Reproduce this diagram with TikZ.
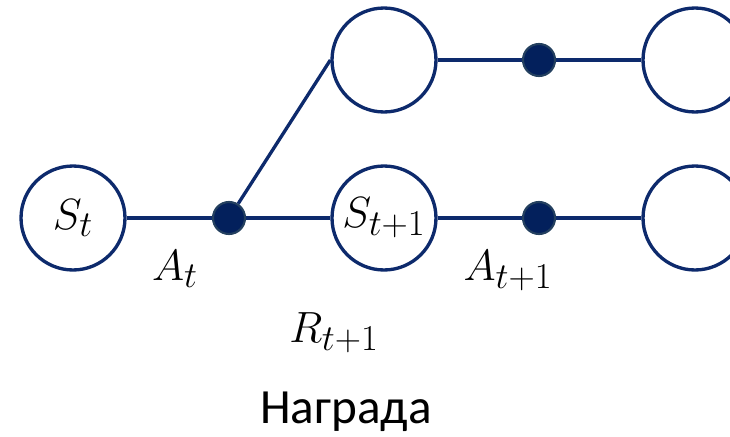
\documentclass[tikz,border=0pt]{standalone}
\usepackage{fontspec}
\usetikzlibrary{positioning}
\newfontfamily\rufont{Carlito}
\DeclareMathSizes{24}{24}{20}{15}
\definecolor{navy1}{HTML}{0D2A6C}
\definecolor{navy2}{HTML}{03205C}
\definecolor{navy3}{HTML}{24405F}

\begin{document}
\begin{tikzpicture}[
  x=0.02cm, y=-0.02cm,
  state/.style={circle, draw=navy1, line width=1.9pt, fill=white,
                minimum size=2.08cm, inner sep=0pt,
                font=\fontsize{24}{28}\selectfont},
  act/.style={circle, draw=navy3, line width=1.2pt, fill=navy2,
              minimum size=0.64cm, inner sep=0pt},
  link/.style={draw=navy1, line width=1.9pt},
  lbl/.style={anchor=base, inner sep=0pt, font=\fontsize{24}{28}\selectfont},
]
  \useasboundingbox (0,0) rectangle (730,436);
  \clip (0,0) rectangle (730,436);
  % --- states ---
  \node[state] (st) at (73,218) {$S_t$};
  \node[state] (up1) at (384,60) {};
  \node[state] (st1) at (384,218) {$S_{t+1}$};
  \node[state] (up2) at (695,60) {};
  \node[state] (st2) at (695,218) {};
  % --- actions ---
  \node[act] (at) at (229,218) {};
  \node[act] (au) at (539,60) {};
  \node[act] (at1) at (539,218) {};
  % --- links ---
  \draw[link] (st.east) -- (at);
  \draw[link] (at) -- (st1.west);
  \draw[link] (at) -- (up1.west);
  \draw[link] (up1.east) -- (au);
  \draw[link] (au) -- (up2.west);
  \draw[link] (st1.east) -- (at1);
  \draw[link] (at1) -- (st2.west);
  % --- labels ---
  \node[lbl] (lat) at (175,280) {$A_t$};
  \node[lbl] (lat1) at (508,280) {$A_{t+1}$};
  \node[lbl] (lrt1) at (334,342) {$R_{t+1}$};
  \node[lbl, font=\rufont\fontsize{28}{32}\selectfont] (lrew) at (346,423) {Награда};
\end{tikzpicture}
\end{document}
